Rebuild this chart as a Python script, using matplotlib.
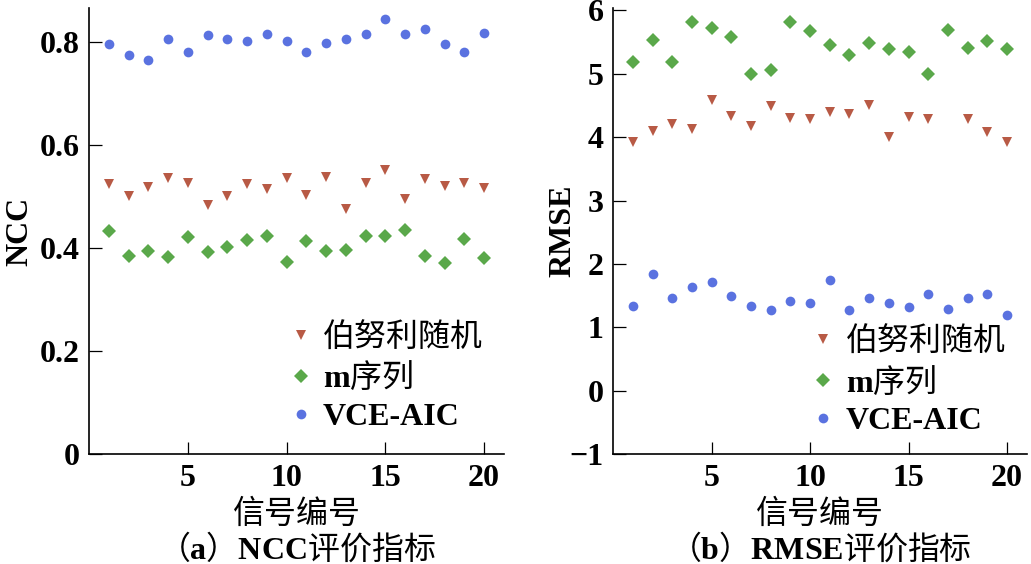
import numpy as np
import matplotlib
matplotlib.use('Agg')
import matplotlib.pyplot as plt

plt.rcParams['font.family'] = ['Liberation Serif', 'Noto Sans CJK SC']
plt.rcParams['font.size'] = 23
plt.rcParams['mathtext.fontset'] = 'custom'
plt.rcParams['mathtext.bf'] = 'Liberation Serif:bold'

# signal index
sig = np.arange(1, 21)

# NCC values
ncc_bernoulli = [0.524, 0.501, 0.518, 0.535, 0.526, 0.484, 0.501, 0.524, 0.515, 0.536,
                 0.502, 0.537, 0.475, 0.526, 0.551, 0.495, 0.533, 0.521, 0.526, 0.516]
ncc_mseq = [0.433, 0.385, 0.394, 0.383, 0.422, 0.393, 0.401, 0.415, 0.423, 0.372,
            0.414, 0.395, 0.397, 0.424, 0.424, 0.434, 0.384, 0.370, 0.417, 0.381]
ncc_vce = [0.796, 0.774, 0.765, 0.805, 0.781, 0.813, 0.805, 0.801, 0.816, 0.801,
           0.781, 0.797, 0.806, 0.815, 0.844, 0.815, 0.825, 0.796, 0.781, 0.817]

# RMSE values (no Bernoulli marker at signal 17)
rmse_bernoulli = [3.93, 4.09, 4.21, 4.13, 4.59, 4.33, 4.18, 4.49, 4.31, 4.29,
                  4.39, 4.36, 4.50, 4.00, 4.32, 4.29, np.nan, 4.29, 4.08, 3.92]
rmse_mseq = [5.19, 5.54, 5.18, 5.81, 5.72, 5.58, 5.00, 5.06, 5.82, 5.67,
             5.45, 5.29, 5.48, 5.39, 5.34, 4.99, 5.69, 5.41, 5.51, 5.39]
rmse_vce = [1.34, 1.84, 1.46, 1.63, 1.72, 1.50, 1.34, 1.28, 1.41, 1.39,
            1.74, 1.27, 1.46, 1.39, 1.32, 1.53, 1.29, 1.46, 1.53, 1.20]

# latin parts in bold via mathtext, CJK parts regular
labels = ['伯努利随机', r'$\mathbf{m}$序列', 'VCE-AIC']
colors = ['#b85a45', '#5aa84a', '#5a72e0']
markers = ['v', 'D', 'o']
sizes = [7, 7, 7]
CJK = 'Noto Sans CJK SC'

fig = plt.figure(figsize=(10.31, 5.64), dpi=100)
ax1 = fig.add_axes([0.0866, 0.195, 0.402, 0.791])
ax2 = fig.add_axes([0.5948, 0.195, 0.401, 0.791])


def draw(ax, series, ylim, yticks, ylabel, ylpad, title, leg_anchor):
    for vals, lab, c, m, s in zip(series, labels, colors, markers, sizes):
        ax.plot(sig, vals, linestyle='none', marker=m, color=c, markersize=s,
                markeredgewidth=0, label=lab)
    ax.set_xlim(0, 21)
    ax.set_ylim(*ylim)
    ax.set_xticks([5, 10, 15, 20])
    ax.set_yticks(yticks)
    ax.spines['top'].set_visible(False)
    ax.spines['right'].set_visible(False)
    ax.spines['left'].set_linewidth(1.2)
    ax.spines['bottom'].set_linewidth(1.2)
    ax.tick_params(direction='in', length=9, width=0.9, pad=7)
    for t in ax.get_xticklabels() + ax.get_yticklabels():
        t.set_fontweight('bold')
    ax.set_xlabel('信号编号', labelpad=5)
    ax.set_ylabel(ylabel, labelpad=ylpad, fontweight='bold')
    leg = ax.legend(loc='upper left', bbox_to_anchor=leg_anchor, frameon=False,
                    handlelength=1, handletextpad=0.2, borderpad=0, labelspacing=0.26)
    leg.get_texts()[1].set_fontfamily(CJK)
    leg.get_texts()[2].set_fontweight('bold')
    pos = ax.get_position()
    fig.text(pos.x0 + pos.width / 2, 0.028, title, ha='center', va='center',
             fontfamily=CJK)


draw(ax1, [ncc_bernoulli, ncc_mseq, ncc_vce], (0, 0.866), [0, 0.2, 0.4, 0.6, 0.8],
     'NCC', 4, r'（$\mathbf{a}$）$\mathbf{NCC}$评价指标', (0.433, 0.33))
ax1.set_yticklabels(['0', '0.2', '0.4', '0.6', '0.8'], fontweight='bold')
draw(ax2, [rmse_bernoulli, rmse_mseq, rmse_vce], (-1, 6.04), [-1, 0, 1, 2, 3, 4, 5, 6],
     'RMSE', -6, r'（$\mathbf{b}$）$\mathbf{RMSE}$评价指标', (0.431, 0.32))

fig.savefig('out.png', dpi=100)
